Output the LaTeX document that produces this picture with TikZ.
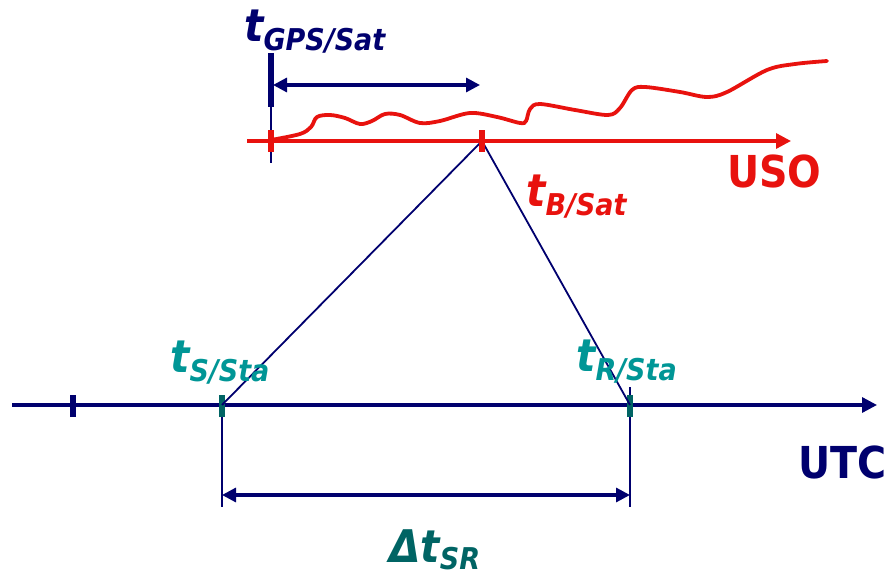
\documentclass[tikz,border=0pt]{standalone}
\usepackage{fontspec}
\usetikzlibrary{arrows.meta}
\newfontfamily\lblfont{DejaVu Sans Condensed}
\definecolor{navy}{RGB}{0,0,110}
\definecolor{usored}{RGB}{232,18,14}
\definecolor{teallbl}{RGB}{0,150,150}
\definecolor{tealdark}{RGB}{0,100,100}
\newcommand\tlab[2]{{\fontsize{#2}{#2}\selectfont t}\raisebox{-9pt}{\fontsize{30}{30}\selectfont #1}}
\tikzset{
  lbl/.style={inner sep=0pt, font=\lblfont\bfseries\itshape},
  axisname/.style={inner sep=0pt, font=\lblfont\bfseries\fontsize{44}{44}\selectfont},
  axisline/.style={line width=3.3pt, -{Triangle[length=15pt,width=15pt]}},
  dimarrow/.style={navy, line width=3.2pt, {Triangle[length=14pt,width=14pt]}-{Triangle[length=14pt,width=14pt]}},
  thinline/.style={navy, line width=1.8pt},
  ticknavy/.style={navy, line width=6pt},
  tickteal/.style={tealdark, line width=6.5pt},
  tickred/.style={usored, line width=5.5pt}
}
\begin{document}
\begin{tikzpicture}[x=1pt,y=-1pt]
\useasboundingbox (0,0) rectangle (889,577);
% coordinates
\coordinate (usoStart) at (247,141);
\coordinate (usoEnd) at (791,141);
\coordinate (gpsS) at (271,141);
\coordinate (gpsTop) at (271,53);
\coordinate (gpsMid) at (271,107);
\coordinate (gpsBot) at (271,163);
\coordinate (bSat) at (482,141);
\coordinate (gpsArrL) at (273,85);
\coordinate (gpsArrR) at (480,85);
\coordinate (utcStart) at (12,405);
\coordinate (utcEnd) at (877,405);
\coordinate (tick0) at (73,405);
\coordinate (tS) at (222,405);
\coordinate (tR) at (630,405);
\coordinate (sBot) at (222,507);
\coordinate (rTop) at (630,387);
\coordinate (rBot) at (630,507);
\coordinate (dL) at (222,495);
\coordinate (dR) at (630,495);

% UTC axis and ticks
\draw[axisline, navy] (utcStart) -- (utcEnd);
\draw[thinline] (tS) -- (sBot);
\draw[thinline] (rTop) -- (rBot);
\draw[ticknavy] ([yshift=-12pt]tick0) -- ([yshift=10pt]tick0);
\draw[tickteal] ([yshift=-12pt]tS) -- ([yshift=10pt]tS);
\draw[tickteal] ([yshift=-12pt]tR) -- ([yshift=10pt]tR);
\draw[dimarrow] (dL) -- (dR);

% triangle
\draw[thinline] (bSat) -- (tS);
\draw[thinline] (bSat) -- (tR);

% GPS marker
\draw[thinline, line width=2.2pt] (gpsMid) -- (gpsBot);
\draw[navy, line width=5.5pt] (gpsTop) -- (gpsMid);
\draw[dimarrow] (gpsArrL) -- (gpsArrR);

% USO axis
\draw[axisline, usored] (usoStart) -- (usoEnd);
\draw[tickred] ([yshift=-11pt]gpsS) -- ([yshift=11pt]gpsS);
\draw[tickred] ([yshift=-11pt]bSat) -- ([yshift=11pt]bSat);
\draw[usored, line width=3.8pt, line cap=round] plot[smooth, tension=0.55] coordinates {
 (271,140) (300,134) (311,127) (317,117) (330,115) (345,118) (360,124) (372,121)
 (385,114) (400,115) (420,123) (440,121) (470,113) (497,117) (520,123) (526,121)
 (530,109) (540,104) (575,110) (608,115) (620,108) (632,90) (645,87) (680,92)
 (707,97) (727,92) (767,70) (795,64) (827,61)};

% labels
\node[lbl, text=navy, anchor=base west] (lgps) at (244,42) {\tlab{GPS/Sat}{45}};
\node[lbl, text=usored, anchor=base west] (lbsat) at (526,207) {\tlab{B/Sat}{45}};
\node[lbl, text=teallbl, anchor=base west] (lssta) at (170,373) {\tlab{S/Sta}{45}};
\node[lbl, text=teallbl, anchor=base west] (lrsta) at (576,371) {\tlab{R/Sta}{45}};
\node[lbl, text=tealdark, anchor=base west] (ldelta) at (389,562) {{\fontsize{45}{45}\selectfont Δt}\raisebox{-7pt}{\fontsize{30}{30}\selectfont SR}};
\node[axisname, text=usored, anchor=base west] (luso) at (727,188) {USO};
\node[axisname, text=navy, anchor=base east] (lutc) at (887,478) {UTC};
\end{tikzpicture}
\end{document}
